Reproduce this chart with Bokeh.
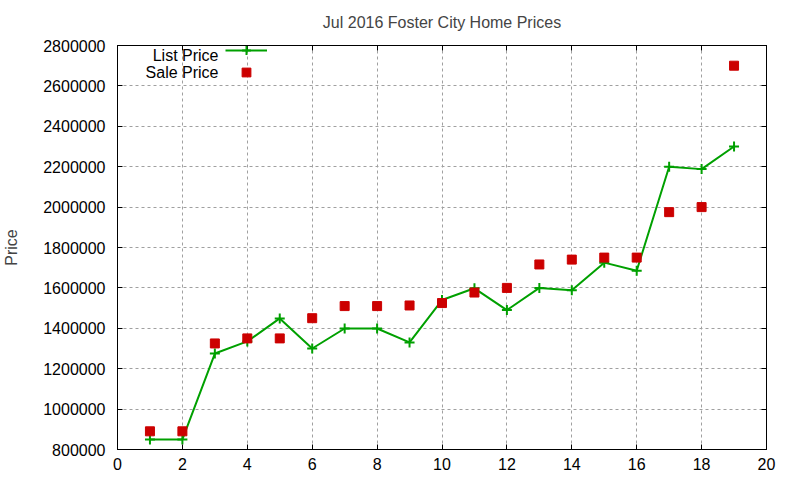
from bokeh.plotting import figure
from bokeh.models import (ColumnDataSource, LinearAxis, SingleIntervalTicker,
                          BasicTickFormatter, Legend, LegendItem, Label, Range1d)
from bokeh.embed import file_html
from bokeh.resources import INLINE

# datos
index = list(range(1, 20))
list_price = [850000, 850000, 1275000, 1335000, 1449000, 1300000, 1399000, 1399000,
              1330000, 1540000, 1598000, 1490000, 1600000, 1588000, 1725000, 1685000,
              2200000, 2188000, 2300000]
sale_price = [890000, 890000, 1325000, 1350000, 1350000, 1450000, 1510000, 1510000,
              1513000, 1525000, 1577000, 1600000, 1716000, 1740000, 1750000, 1750000,
              1975000, 2000000, 2700000]

FONT = "Liberation Sans"
GREEN = "#00a000"
RED = "#cc0000"

source = ColumnDataSource(data=dict(x=index, lp=list_price, sp=sale_price))

p = figure(width=784, height=472, output_backend="svg", toolbar_location=None,
           x_range=Range1d(0, 20), y_range=Range1d(800000, 2800000),
           min_border_left=111, min_border_right=18, min_border_top=45,
           min_border_bottom=23)

p.title.text = "Jul 2016 Foster City Home Prices"
p.title.align = "center"
p.title.text_font = FONT
p.title.text_font_size = "16px"
p.title.text_font_style = "normal"
p.title.standoff = 22

p.outline_line_color = "black"
p.outline_line_width = 1

# rejilla punteada
for g in (p.xgrid, p.ygrid):
    g.grid_line_color = "#a0a0a0"
    g.grid_line_dash = "3 3"
    g.grid_line_width = 1

p.xaxis.ticker = SingleIntervalTicker(interval=2)
p.yaxis.ticker = SingleIntervalTicker(interval=200000)
p.yaxis.formatter = BasicTickFormatter(use_scientific=False)
p.yaxis.axis_label = "Price"

for ax in (p.xaxis[0], p.yaxis[0]):
    ax.major_tick_in = 5
    ax.major_tick_out = 0
    ax.minor_tick_line_color = None
    ax.major_label_text_font = FONT
    ax.major_label_text_font_size = "16px"
    ax.major_label_text_color = "black"
    ax.axis_label_text_font = FONT
    ax.axis_label_text_font_size = "16px"
    ax.axis_label_text_font_style = "normal"
    ax.axis_line_color = "black"
p.xaxis.major_label_standoff = 4
p.yaxis.major_label_standoff = 8
p.yaxis.axis_label_standoff = 20

# ejes espejo (arriba y derecha) solo con marcas, sin etiquetas
top = LinearAxis(ticker=SingleIntervalTicker(interval=2))
right = LinearAxis(ticker=SingleIntervalTicker(interval=200000))
for ax in (top, right):
    ax.major_tick_in = 5
    ax.major_tick_out = 0
    ax.minor_tick_line_color = None
    ax.major_label_text_font_size = "1px"
    ax.major_label_text_color = None
    ax.major_label_standoff = 0
    ax.axis_line_color = "black"
p.add_layout(top, "above")
p.add_layout(right, "right")

# series
line = p.line("x", "lp", source=source, line_color=GREEN, line_width=2)
cross = p.scatter("x", "lp", source=source, marker="cross", size=10,
                  line_color=GREEN, line_width=2)
squares = p.scatter("x", "sp", source=source, marker="square", size=9,
                    fill_color=RED, line_color=RED)

# leyenda estilo gnuplot: texto a la izquierda del simbolo
legend = Legend(items=[LegendItem(label=" ", renderers=[line, cross]),
                       LegendItem(label=" ", renderers=[squares])],
                location=(108, 366), margin=0, padding=0, spacing=-5,
                glyph_width=42, glyph_height=22, label_height=17,
                label_width=1, label_standoff=0, label_text_font_size="1px",
                label_text_color=None,
                background_fill_alpha=0, border_line_color=None)
p.add_layout(legend)

for txt, yy in (("List Price", 394), ("Sale Price", 377)):
    p.add_layout(Label(x=101, y=yy, x_units="screen", y_units="screen", text=txt,
                       text_align="right", text_baseline="middle",
                       text_font=FONT, text_font_size="16px", text_color="black"))

open("out.html", "w").write(file_html(p, INLINE))
